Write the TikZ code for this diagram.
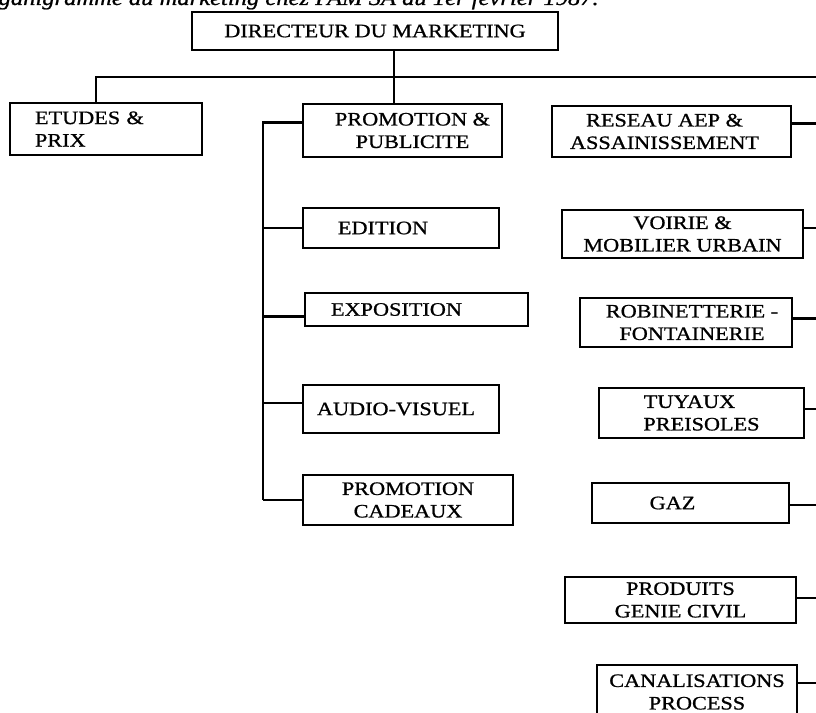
\documentclass[tikz,border=0pt]{standalone}
\usepackage{fontspec}
\setmainfont{Liberation Serif}[FakeStretch=1.17, FakeBold=0.9]
\usetikzlibrary{positioning}

\begin{document}
\begin{tikzpicture}[x=1pt, y=-1pt,
    unit/.style={rectangle, draw=black, line width=2.1pt, align=center, inner sep=0pt, font=\fontsize{19}{22.5}\selectfont},
    heading/.style={anchor=base west, inner sep=0pt, font=\fontsize{21}{24}\selectfont\itshape},
    wire/.style={draw, line width=2.4pt}]

    \clip (0,0) rectangle (816,712);
    \node [heading] (title) at (-28,5) {Organigramme du marketing chez PAM SA au 1er février 1987.};

    \node [unit, minimum width=366pt, minimum height=38pt] (dir) at (375,31) {DIRECTEUR DU MARKETING};

    \node [unit, minimum width=192pt, minimum height=52pt, text width=142pt, align=left] (etudes) at (106,129) {ETUDES \&\\PRIX};

    \node [unit, minimum width=199pt, minimum height=53pt] (promo) at (402.5,130.5) {\hspace*{20pt}PROMOTION \&\\\hspace*{20pt}PUBLICITE};
    \node [unit, minimum width=196pt, minimum height=40pt] (edition) at (401,228) {EDITION\hspace*{36pt}};
    \node [unit, minimum width=223pt, minimum height=33pt] (expo) at (416.5,309.5) {EXPOSITION\hspace*{40pt}};
    \node [unit, minimum width=196pt, minimum height=48pt] (audio) at (401,409) {AUDIO-VISUEL\hspace*{10pt}};
    \node [unit, minimum width=210pt, minimum height=50pt] (cadeaux) at (408,500) {PROMOTION\\CADEAUX};

    \node [unit, minimum width=239pt, minimum height=51pt] (reseau) at (671.5,131.5) {RESEAU AEP \&\hspace*{14pt}\\ASSAINISSEMENT\hspace*{14pt}};
    \node [unit, minimum width=241pt, minimum height=48pt] (voirie) at (682.5,234) {VOIRIE \&\\MOBILIER URBAIN};
    \node [unit, minimum width=212pt, minimum height=49pt] (robin) at (686,322.5) {\hspace*{12pt}ROBINETTERIE -\\\hspace*{12pt}FONTAINERIE};
    \node [unit, minimum width=205pt, minimum height=50pt] (tuyaux) at (701.5,413) {TUYAUX\hspace*{24pt}\\PREISOLES};
    \node [unit, minimum width=197pt, minimum height=40pt] (gaz) at (690.5,503) {GAZ\hspace*{36pt}};
    \node [unit, minimum width=231pt, minimum height=46pt] (produits) at (680.5,600) {PRODUITS\\GENIE CIVIL};
    \node [unit, minimum width=200pt, minimum height=54pt] (canal) at (697,692) {CANALISATIONS\\PROCESS};

    \coordinate (busleft) at (96,77);
    \coordinate (bus) at (830,77);
    \coordinate (drop) at (394,0);
    \coordinate (spine) at (263,0);
    \coordinate (rail) at (830,0);

    \path [wire] (etudes.north -| busleft) |- (bus);
    \path [wire] (drop |- dir.south) -- (drop |- promo.north);

    \path [wire] ([yshift=8pt]promo.west) -| (spine |- cadeaux.west);
    \path [wire] (edition.west) -- (edition.west -| spine);
    \path [wire] ([yshift=-7pt]expo.west) -- ([yshift=-7pt]expo.west -| spine);
    \path [wire] ([yshift=6pt]audio.west) -- ([yshift=6pt]audio.west -| spine);
    \path [wire] (cadeaux.west) -- (cadeaux.west -| spine);

    \path [wire] ([yshift=8pt]reseau.east) -- ([yshift=8pt]reseau.east -| rail);
    \path [wire] ([yshift=6pt]voirie.east) -- ([yshift=6pt]voirie.east -| rail);
    \path [wire] ([yshift=4pt]robin.east) -- ([yshift=4pt]robin.east -| rail);
    \path [wire] ([yshift=4pt]tuyaux.east) -- ([yshift=4pt]tuyaux.east -| rail);
    \path [wire] ([yshift=-2pt]gaz.east) -- ([yshift=-2pt]gaz.east -| rail);
    \path [wire] ([yshift=2pt]produits.east) -- ([yshift=2pt]produits.east -| rail);
    \path [wire] ([yshift=9pt]canal.east) -- ([yshift=9pt]canal.east -| rail);
\end{tikzpicture}
\end{document}
